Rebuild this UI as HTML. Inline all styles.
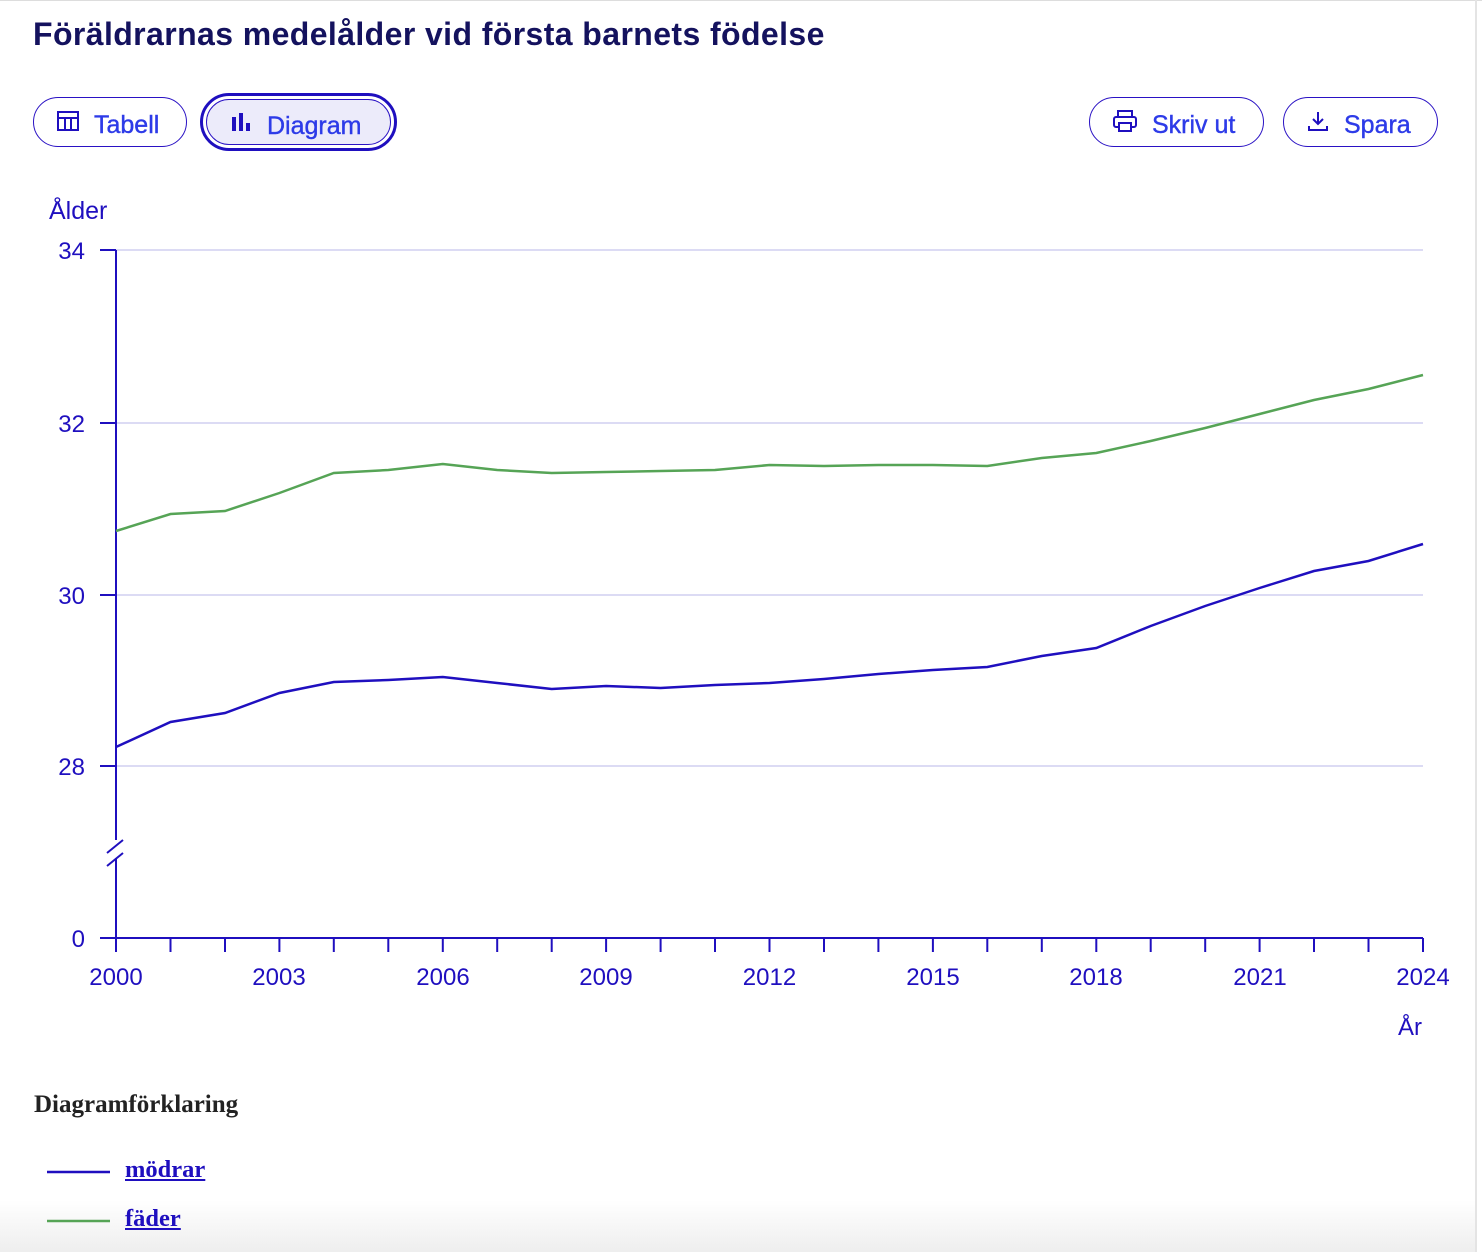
<!DOCTYPE html>
<html><head><meta charset="utf-8"><style>
body{margin:0;width:1482px;height:1252px;overflow:hidden;background:#fff;font-family:"Liberation Sans",sans-serif;position:relative}
.top{position:absolute;left:0;top:0;width:1482px;height:1px;background:#ddd}
.vr{position:absolute;left:1475px;top:0;width:2px;height:1252px;background:#e4e4e4}
h1{position:absolute;left:33px;top:16px;margin:0;font-size:32px;font-weight:bold;color:#14125e;letter-spacing:0.4px}
.btn{position:absolute;top:97px;height:50px;border:1.5px solid #2a12c4;border-radius:26px;box-sizing:border-box;color:#2d3be8;font-size:25px;display:flex;align-items:center;gap:14px;padding-left:22px;padding-top:6px;-webkit-text-stroke:0.4px #2d3be8}
.btn svg{margin-top:-8px}
.sel{background:#ecebfa;outline:3px solid #1f0fbf;outline-offset:3px}
.lg{position:absolute;font-family:"Liberation Serif",serif;font-weight:bold}
.fade{position:absolute;left:0;top:1200px;width:1475px;height:52px;background:linear-gradient(#fff0,#eee)}
</style></head><body>
<div class="top"></div><div class="vr"></div>
<div class="fade"></div>
<h1>Föräldrarnas medelålder vid första barnets födelse</h1>
<div class="btn" style="left:33px;width:154px"><svg width="24" height="22"><rect x="2" y="2" width="20" height="18" fill="none" stroke="#1f0fbf" stroke-width="2"/><line x1="2" y1="8" x2="22" y2="8" stroke="#1f0fbf" stroke-width="2"/><line x1="9" y1="8" x2="9" y2="20" stroke="#1f0fbf" stroke-width="2"/><line x1="15" y1="8" x2="15" y2="20" stroke="#1f0fbf" stroke-width="2"/></svg>Tabell</div>
<div class="btn sel" style="left:206px;width:185px;top:99px;height:46px;padding-top:8px"><svg width="24" height="22"><rect x="3" y="6" width="4" height="14" fill="#1f0fbf"/><rect x="10" y="2" width="4" height="18" fill="#1f0fbf"/><rect x="17" y="12" width="4" height="8" fill="#1f0fbf"/></svg>Diagram</div>
<div class="btn" style="left:1089px;width:175px"><svg width="26" height="24"><rect x="6" y="2" width="14" height="6" fill="none" stroke="#1f0fbf" stroke-width="2"/><rect x="2" y="8" width="22" height="10" rx="2" fill="none" stroke="#1f0fbf" stroke-width="2"/><rect x="7" y="14" width="12" height="8" fill="#fff" stroke="#1f0fbf" stroke-width="2"/></svg>Skriv ut</div>
<div class="btn" style="left:1283px;width:155px"><svg width="24" height="24"><path d="M12 3V15M7 10L12 15L17 10M3 17V21H21V17" fill="none" stroke="#1f0fbf" stroke-width="2"/></svg>Spara</div>
<svg style="position:absolute;left:0;top:0" width="1482" height="1252" font-family="Liberation Sans, sans-serif" fill="#1f0fbf">
<text x="49" y="219" font-size="25">Ålder</text>
<g stroke="#d0cff0" stroke-width="1.5"><line x1="116" y1="250" x2="1423" y2="250"/><line x1="116" y1="423" x2="1423" y2="423"/><line x1="116" y1="595" x2="1423" y2="595"/><line x1="116" y1="766" x2="1423" y2="766"/></g>
<g font-size="24" text-anchor="end"><text x="85" y="259">34</text><text x="85" y="432">32</text><text x="85" y="604">30</text><text x="85" y="775">28</text><text x="85" y="947">0</text></g>
<g stroke="#1f0fbf" stroke-width="2"><line x1="100" y1="250" x2="116" y2="250"/><line x1="100" y1="423" x2="116" y2="423"/><line x1="100" y1="595" x2="116" y2="595"/><line x1="100" y1="766" x2="116" y2="766"/>
<line x1="116" y1="250" x2="116" y2="840"/><line x1="116" y1="858" x2="116" y2="952"/><line x1="107" y1="853" x2="123" y2="840"/><line x1="107" y1="866" x2="123" y2="853"/>
<line x1="100" y1="938" x2="1423" y2="938"/></g>
<g stroke="#1f0fbf" stroke-width="2">
<line x1="116" y1="938" x2="116" y2="952"/><line x1="170.5" y1="938" x2="170.5" y2="952"/><line x1="225" y1="938" x2="225" y2="952"/><line x1="279.4" y1="938" x2="279.4" y2="952"/><line x1="333.8" y1="938" x2="333.8" y2="952"/><line x1="388.3" y1="938" x2="388.3" y2="952"/><line x1="442.8" y1="938" x2="442.8" y2="952"/><line x1="497.2" y1="938" x2="497.2" y2="952"/><line x1="551.7" y1="938" x2="551.7" y2="952"/><line x1="606.1" y1="938" x2="606.1" y2="952"/><line x1="660.6" y1="938" x2="660.6" y2="952"/><line x1="715" y1="938" x2="715" y2="952"/><line x1="769.5" y1="938" x2="769.5" y2="952"/><line x1="824" y1="938" x2="824" y2="952"/><line x1="878.4" y1="938" x2="878.4" y2="952"/><line x1="932.9" y1="938" x2="932.9" y2="952"/><line x1="987.3" y1="938" x2="987.3" y2="952"/><line x1="1041.8" y1="938" x2="1041.8" y2="952"/><line x1="1096.3" y1="938" x2="1096.3" y2="952"/><line x1="1150.7" y1="938" x2="1150.7" y2="952"/><line x1="1205.2" y1="938" x2="1205.2" y2="952"/><line x1="1259.6" y1="938" x2="1259.6" y2="952"/><line x1="1314" y1="938" x2="1314" y2="952"/><line x1="1368.5" y1="938" x2="1368.5" y2="952"/><line x1="1423" y1="938" x2="1423" y2="952"/></g>
<g font-size="24" text-anchor="middle"><text x="116" y="985">2000</text><text x="279" y="985">2003</text><text x="443" y="985">2006</text><text x="606" y="985">2009</text><text x="769.5" y="985">2012</text><text x="933" y="985">2015</text><text x="1096" y="985">2018</text><text x="1260" y="985">2021</text><text x="1423" y="985">2024</text><text x="1410" y="1035">År</text></g>
<polyline fill="none" stroke="#56a456" stroke-width="2.5" points="116,531 170.5,514 225,511 279.4,493 333.8,473 388.3,470 442.8,464 497.2,470 551.7,473 606.1,472 660.6,471 715,470 769.5,465 824,466 878.4,465 932.9,465 987.3,466 1041.8,458 1096.3,453 1150.7,441 1205.2,428 1259.6,414 1314,400 1368.5,389 1423,375"/>
<polyline fill="none" stroke="#1f0fbf" stroke-width="2.5" points="116,747 170.5,722 225,713 279.4,693 333.8,682 388.3,680 442.8,677 497.2,683 551.7,689 606.1,686 660.6,688 715,685 769.5,683 824,679 878.4,674 932.9,670 987.3,667 1041.8,656 1096.3,648 1150.7,626 1205.2,606 1259.6,588 1314,571 1368.5,561 1423,544"/>
<line x1="47" y1="1172" x2="110" y2="1172" stroke="#1f0fbf" stroke-width="2.5"/>
<line x1="47" y1="1221" x2="110" y2="1221" stroke="#56a456" stroke-width="2.5"/>
</svg>
<div class="lg" style="left:34px;top:1091px;font-size:25px;color:#222">Diagramförklaring</div>
<div class="lg" style="left:125px;top:1156px;font-size:24.5px;color:#1f0fbf;text-decoration:underline">mödrar</div>
<div class="lg" style="left:125px;top:1205px;font-size:24.5px;color:#1f0fbf;text-decoration:underline">fäder</div>
</body></html>
